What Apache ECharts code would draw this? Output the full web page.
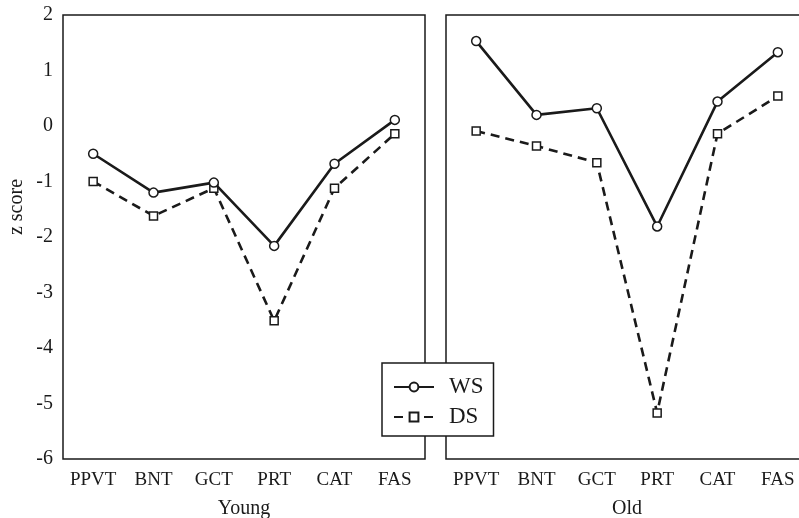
<!DOCTYPE html>
<html>
<head>
<meta charset="utf-8">
<script src="https://cdn.jsdelivr.net/npm/echarts@6/dist/echarts.min.js"></script>
<style>
  html, body { margin: 0; padding: 0; background: #fff; }
  #chart { width: 799px; height: 518px; }
</style>
</head>
<body>
<div id="chart"></div>
<script>
// Test battery and z scores per group
const tests = ['PPVT', 'BNT', 'GCT', 'PRT', 'CAT', 'FAS'];
const youngWS = [-0.50, -1.20, -1.02, -2.16, -0.68, 0.11];
const youngDS = [-1.00, -1.62, -1.12, -3.51, -1.12, -0.14];
const oldWS = [1.53, 0.20, 0.32, -1.81, 0.44, 1.33];
const oldDS = [-0.09, -0.36, -0.66, -5.17, -0.14, 0.54];
const panelNames = ['Young', 'Old'];

const ink = '#1a1a1a';
const serif = '"Liberation Serif", "Times New Roman", serif';

function xAxisFor(i) {
  return {
    type: 'category', gridIndex: i, data: tests, boundaryGap: true,
    name: panelNames[i], nameLocation: 'middle', nameGap: 40,
    nameTextStyle: { fontFamily: serif, fontSize: 20, color: ink },
    axisLine: { show: false }, axisTick: { show: false },
    axisLabel: { interval: 0, fontFamily: serif, fontSize: 19, color: ink, margin: 12 }
  };
}
function yAxisFor(i) {
  return {
    type: 'value', gridIndex: i, min: -6, max: 2, interval: 1,
    axisLine: { show: false }, axisTick: { show: false }, splitLine: { show: false },
    axisLabel: { show: i === 0, fontFamily: serif, fontSize: 20, color: ink, margin: 10 }
  };
}
function wsSeries(i, data) {
  return {
    name: 'WS', type: 'line', xAxisIndex: i, yAxisIndex: i, data: data,
    symbol: 'circle', symbolSize: 9, z: 3,
    lineStyle: { color: ink, width: 2.6, type: 'solid' },
    itemStyle: { color: '#fff', borderColor: ink, borderWidth: 1.5 }
  };
}
function dsSeries(i, data) {
  return {
    name: 'DS', type: 'line', xAxisIndex: i, yAxisIndex: i, data: data,
    symbol: 'rect', symbolSize: 8, z: 2,
    lineStyle: { color: ink, width: 2.6, type: [9, 6] },
    itemStyle: { color: '#fff', borderColor: ink, borderWidth: 1.5 }
  };
}

const chart = echarts.init(document.getElementById('chart'), null, { renderer: 'canvas' });
chart.setOption({
  backgroundColor: '#fff',
  animation: false,
  grid: [
    { left: 63, top: 15, width: 362, height: 444, outerBoundsMode: 'none',
      show: true, borderColor: ink, borderWidth: 1.5, backgroundColor: 'transparent' },
    // the second panel runs past the right edge of the canvas
    { left: 446, top: 15, width: 362, height: 444, outerBoundsMode: 'none',
      show: true, borderColor: ink, borderWidth: 1.5, backgroundColor: 'transparent' }
  ],
  xAxis: [xAxisFor(0), xAxisFor(1)],
  yAxis: [yAxisFor(0), yAxisFor(1)],
  legend: {
    data: ['WS', 'DS'], orient: 'vertical', left: 382, top: 363,
    backgroundColor: '#fff', borderColor: ink, borderWidth: 1.5,
    padding: [11, 10, 6, 11], itemGap: 4, itemWidth: 40, itemHeight: 11,
    textStyle: { fontFamily: serif, fontSize: 23, color: ink, padding: [0, 0, 0, 10], lineHeight: 26 }
  },
  graphic: [{
    type: 'text', x: 17, y: 207, rotation: Math.PI / 2,
    style: { text: 'z score', font: '20px ' + serif, fill: ink, textAlign: 'center', textVerticalAlign: 'middle' }
  }],
  series: [wsSeries(0, youngWS), dsSeries(0, youngDS), wsSeries(1, oldWS), dsSeries(1, oldDS)]
});
</script>
</body>
</html>
